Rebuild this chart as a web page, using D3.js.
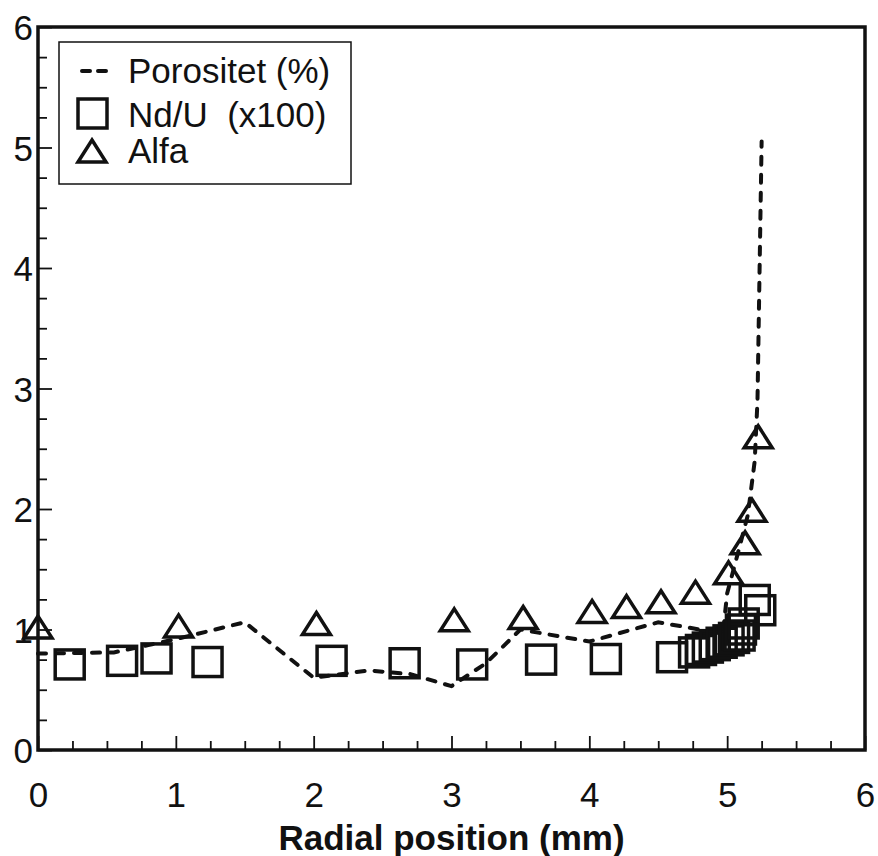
<!DOCTYPE html>
<html>
<head>
  <meta charset="utf-8">
  <title>Porositet, Nd/U og Alfa</title>
  <script src="https://cdn.jsdelivr.net/npm/d3@7"></script>
  <style>
    body { margin: 0; background: #fff; }
    svg text { font-family: "Liberation Sans", Arial, sans-serif; fill: #111; }
  </style>
</head>
<body>
  <script>
    // Værdier
    const porX = [0, 0.55, 0.8, 1.0, 1.25, 1.5, 2.0, 2.4, 2.7, 3.0, 3.25, 3.5, 4.0, 4.5, 4.8, 4.97, 5.0, 5.07, 5.15, 5.2, 5.22, 5.25];
    const porY = [0.80, 0.81, 0.87, 0.92, 0.99, 1.06, 0.60, 0.66, 0.63, 0.53, 0.72, 1.0, 0.9, 1.06, 1.0, 0.98, 1.3, 1.6, 1.95, 2.4, 2.9, 5.05];

    const ndX = [0.23, 0.61, 0.86, 1.23, 2.13, 2.66, 3.15, 3.65, 4.12, 4.6, 4.76, 4.81, 4.86, 4.91, 4.96, 5.01, 5.05, 5.09, 5.1, 5.12, 5.2, 5.24];
    const ndY = [0.71, 0.74, 0.76, 0.73, 0.74, 0.72, 0.71, 0.75, 0.755, 0.77, 0.81, 0.83, 0.85, 0.87, 0.89, 0.91, 0.93, 0.95, 1.0, 1.05, 1.245, 1.16];

    const alfaX = [0, 1.02, 2.02, 3.02, 3.52, 4.02, 4.27, 4.52, 4.77, 5.01, 5.13, 5.18, 5.225];
    const alfaY = [1.02, 1.03, 1.05, 1.08, 1.1, 1.15, 1.19, 1.23, 1.31, 1.47, 1.72, 1.99, 2.6];

    const xTicks = d3.range(0, 6.001, 0.25);
    const yTicks = d3.range(0, 6.001, 0.25);
    const legendLabels = ["Porositet (%)", "Nd/U  (x100)", "Alfa"];

    const w = 878;
    const h = 856;
    const ink = "#111";

    const xScale = d3.scaleLinear().domain([0, 6]).range([38, 865]);
    const yScale = d3.scaleLinear().domain([0, 6]).range([750, 27]);

    const svg = d3.select("body")
      .append("svg")
      .attr("width", w)
      .attr("height", h);

    svg.append("rect")
      .attr("width", w)
      .attr("height", h)
      .attr("fill", "#fff");

    const isMajor = function (d) { return Math.abs(d - Math.round(d)) < 1e-6; };

    // x-akse, ticks peger indad
    const xAxis = svg.append("g")
      .attr("transform", "translate(0," + yScale(0) + ")")
      .call(d3.axisBottom(xScale)
        .tickValues(xTicks)
        .tickSizeInner(-9)
        .tickSizeOuter(0)
        .tickPadding(0)
        .tickFormat(function (d) { return isMajor(d) ? d3.format("d")(d) : ""; }));
    xAxis.select(".domain").remove();
    xAxis.selectAll(".tick line")
      .attr("stroke", ink)
      .attr("stroke-width", 1.8)
      .attr("y2", function (d) { return isMajor(d) ? -14 : -9; });
    xAxis.selectAll(".tick text")
      .attr("y", 57)
      .attr("dy", null)
      .attr("font-size", "35px")
      .attr("fill", ink);

    // y-akse
    const yAxis = svg.append("g")
      .attr("transform", "translate(" + xScale(0) + ",0)")
      .call(d3.axisLeft(yScale)
        .tickValues(yTicks)
        .tickSizeInner(-9)
        .tickSizeOuter(0)
        .tickFormat(function (d) { return isMajor(d) ? d3.format("d")(d) : ""; }));
    yAxis.select(".domain").remove();
    yAxis.selectAll(".tick line")
      .attr("stroke", ink)
      .attr("stroke-width", 1.8)
      .attr("x2", function (d) { return isMajor(d) ? 14 : 9; });
    yAxis.selectAll(".tick text")
      .attr("x", -5)
      .attr("dy", "0.36em")
      .attr("font-size", "35px")
      .attr("fill", ink);

    // Ramme
    svg.append("rect")
      .attr("x", xScale(0))
      .attr("y", yScale(6))
      .attr("width", xScale(6) - xScale(0))
      .attr("height", yScale(0) - yScale(6))
      .attr("fill", "none")
      .attr("stroke", ink)
      .attr("stroke-width", 3.5);

    // Aksetitel
    svg.append("text")
      .attr("x", (xScale(0) + xScale(6)) / 2)
      .attr("y", 850)
      .attr("text-anchor", "middle")
      .attr("font-size", "35px")
      .attr("font-weight", "bold")
      .text("Radial position (mm)");

    // Porositet, stiplet linje
    const porData = porX.map(function (d, i) { return [d, porY[i]]; });
    svg.append("path")
      .datum(porData)
      .attr("d", d3.line()
        .x(function (d) { return xScale(d[0]); })
        .y(function (d) { return yScale(d[1]); }))
      .attr("fill", "none")
      .attr("stroke", ink)
      .attr("stroke-width", 4)
      .attr("stroke-linecap", "round")
      .attr("stroke-dasharray", "8,10");

    // Nd/U firkanter
    const sq = 29;
    svg.selectAll("rect.nd")
      .data(ndX.map(function (d, i) { return [d, ndY[i]]; }))
      .enter()
      .append("rect")
      .attr("class", "nd")
      .attr("x", function (d) { return xScale(d[0]) - sq / 2; })
      .attr("y", function (d) { return yScale(d[1]) - sq / 2; })
      .attr("width", sq)
      .attr("height", sq)
      .attr("fill", "none")
      .attr("stroke", ink)
      .attr("stroke-width", 3.5);

    // Alfa trekanter
    const triW = 28, triH = 22;
    const triPath = "M0," + (-triH / 2) + "L" + (triW / 2) + "," + (triH / 2) + "L" + (-triW / 2) + "," + (triH / 2) + "Z";
    svg.selectAll("path.alfa")
      .data(alfaX.map(function (d, i) { return [d, alfaY[i]]; }))
      .enter()
      .append("path")
      .attr("class", "alfa")
      .attr("d", triPath)
      .attr("transform", function (d) { return "translate(" + xScale(d[0]) + "," + yScale(d[1]) + ")"; })
      .attr("fill", "none")
      .attr("stroke", ink)
      .attr("stroke-width", 3.5);

    // Legend
    const leg = svg.append("g");
    leg.append("rect")
      .attr("x", 59)
      .attr("y", 42)
      .attr("width", 292)
      .attr("height", 142)
      .attr("fill", "#fff")
      .attr("stroke", ink)
      .attr("stroke-width", 1.5);

    leg.append("line")
      .attr("x1", 82).attr("x2", 110)
      .attr("y1", 71).attr("y2", 71)
      .attr("stroke", ink)
      .attr("stroke-width", 4)
      .attr("stroke-linecap", "round")
      .attr("stroke-dasharray", "8,8");

    leg.append("rect")
      .attr("x", 78).attr("y", 99)
      .attr("width", sq).attr("height", sq)
      .attr("fill", "none")
      .attr("stroke", ink)
      .attr("stroke-width", 3.5);

    leg.append("path")
      .attr("d", triPath)
      .attr("transform", "translate(92,151)")
      .attr("fill", "none")
      .attr("stroke", ink)
      .attr("stroke-width", 3.5);

    leg.selectAll("text")
      .data(legendLabels)
      .enter()
      .append("text")
      .attr("x", 128)
      .attr("y", function (d, i) { return [83, 127, 163][i]; })
      .attr("font-size", "35px")
      .attr("xml:space", "preserve")
      .style("white-space", "pre")
      .text(function (d) { return d; });
  </script>
</body>
</html>
